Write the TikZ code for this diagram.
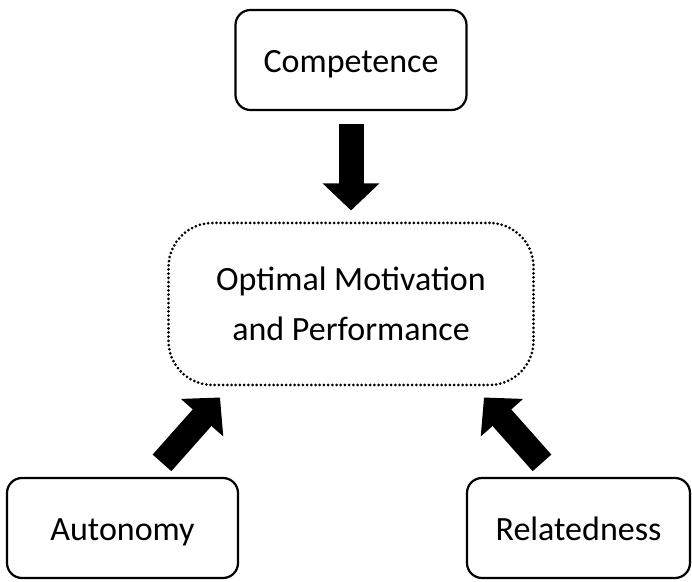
\documentclass[tikz,border=0pt]{standalone}
\usepackage{fontspec}
\setmainfont{Carlito}
\usetikzlibrary{arrows.meta}

\begin{document}
\begin{tikzpicture}[x=0.5pt, y=-0.5pt,
  need/.style={draw=black, line width=1.1pt, rounded corners=7.5pt,
    minimum width=115.5pt, minimum height=50pt, inner sep=0pt,
    text height=15pt, text depth=2pt,
    font=\fontsize{17}{25}\selectfont},
  goal/.style={draw=black, line width=1.5pt, line cap=round,
    dash pattern=on 0pt off 2.1pt,
    rounded corners=22pt, minimum width=182.5pt, minimum height=81pt,
    inner sep=0pt, align=center, font=\fontsize{17}{25}\selectfont},
  push/.style={line width=12.5pt, -{Triangle[width=27.5pt,length=13.5pt]}}]

\useasboundingbox (0,0) rectangle (692,582);

% Centre goal
\node[goal] (opt) at (351,304) {Optimal Motivation\\and Performance};

% The three needs
\node[need] (comp) at (351,60) {Competence};
\node[need] (auto) at (122.5,528) {Autonomy};
\node[need, minimum width=111.5pt] (rel) at (578.5,528) {Relatedness};

% Block arrows into the goal
\draw[push, shorten <=6.5pt, shorten >=5.5pt] (comp.south) -- (opt.north);
\draw[push] ([shift={(39.5,-14)}]auto.north) -- ([shift={(53,11)}]opt.south west);
\draw[push] ([shift={(-36.5,-14)}]rel.north) -- ([shift={(-51,11)}]opt.south east);

\end{tikzpicture}
\end{document}
